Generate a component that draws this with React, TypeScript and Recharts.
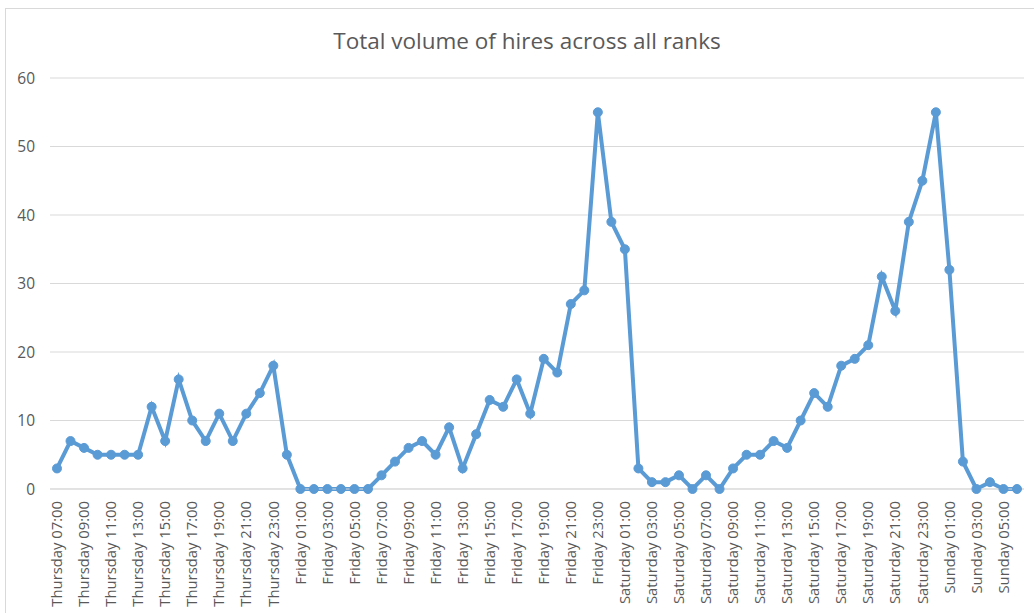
import React from "react";
import { LineChart, Line, XAxis, YAxis, CartesianGrid } from "recharts";

const days = ["Thursday", "Friday", "Saturday", "Sunday"];
const firstHour = [7, 0, 0, 0];
const lastHour = [23, 23, 23, 6];

const categories: string[] = [];
days.forEach((d, i) => {
  for (let h = firstHour[i]; h <= lastHour[i]; h++) {
    categories.push(`${d} ${String(h).padStart(2, "0")}:00`);
  }
});

const thursday = [3, 7, 6, 5, 5, 5, 5, 12, 7, 16, 10, 7, 11, 7, 11, 14, 18];
const friday = [5, 0, 0, 0, 0, 0, 0, 2, 4, 6, 7, 5, 9, 3, 8, 13, 12, 16, 11, 19, 17, 27, 29, 55];
const saturday = [39, 35, 3, 1, 1, 2, 0, 2, 0, 3, 5, 5, 7, 6, 10, 14, 12, 18, 19, 21, 31, 26, 39, 45];
const sunday = [55, 32, 4, 0, 1, 0, 0];

const hires = [...thursday, ...friday, ...saturday, ...sunday];
const yTicks = [0, 10, 20, 30, 40, 50, 60];

const data = categories.map((c, i) => ({ time: c, hires: hires[i] }));

const FONT = "'Open Sans', 'DejaVu Sans', sans-serif";
const TEXT = "#595959";

const RotatedTick = (props: any) => {
  const { x, y, payload } = props;
  return (
    <text
      x={x}
      y={y}
      transform={`rotate(-90, ${x}, ${y})`}
      textAnchor="end"
      dy="0.35em"
      fontSize={14.8}
      fontFamily={FONT}
      fill={TEXT}
    >
      {payload.value}
    </text>
  );
};

export default function App() {
  return (
    <div
      style={{
        position: "absolute",
        left: 0,
        top: 0,
        width: 1034,
        height: 613,
        background: "#fff",
        overflow: "hidden",
      }}
    >
      <div
        style={{
          position: "absolute",
          left: 5,
          top: 8,
          width: 1040,
          height: 620,
          border: "1px solid #d9d9d9",
        }}
      />
      <div
        style={{
          position: "absolute",
          left: 0,
          top: 25,
          width: 1054,
          textAlign: "center",
          fontFamily: FONT,
          fontSize: 22.5,
          color: TEXT,
        }}
      >
        Total volume of hires across all ranks
      </div>
      <div style={{ position: "absolute", left: 0, top: 0 }}>
        <LineChart
          width={1034}
          height={613}
          data={data}
          margin={{ top: 78, right: 10, left: 0, bottom: 0 }}
        >
          <CartesianGrid vertical={false} stroke="#d9d9d9" />
          <XAxis
            dataKey="time"
            interval={1}
            padding={{ left: 7, right: 7 }}
            height={124}
            tickLine={false}
            tickMargin={6}
            axisLine={{ stroke: "#d9d9d9" }}
            tick={<RotatedTick />}
          />
          <YAxis
            domain={[0, 60]}
            ticks={yTicks}
            width={50}
            axisLine={false}
            tickLine={false}
            tickMargin={9}
            tick={{ fontSize: 15.5, fontFamily: FONT, fill: TEXT }}
          />
          <Line
            dataKey="hires"
            stroke="#5B9BD5"
            strokeWidth={4}
            dot={{ r: 4.5, fill: "#5B9BD5", stroke: "#5B9BD5", strokeWidth: 1 }}
            isAnimationActive={false}
          />
        </LineChart>
      </div>
    </div>
  );
}
